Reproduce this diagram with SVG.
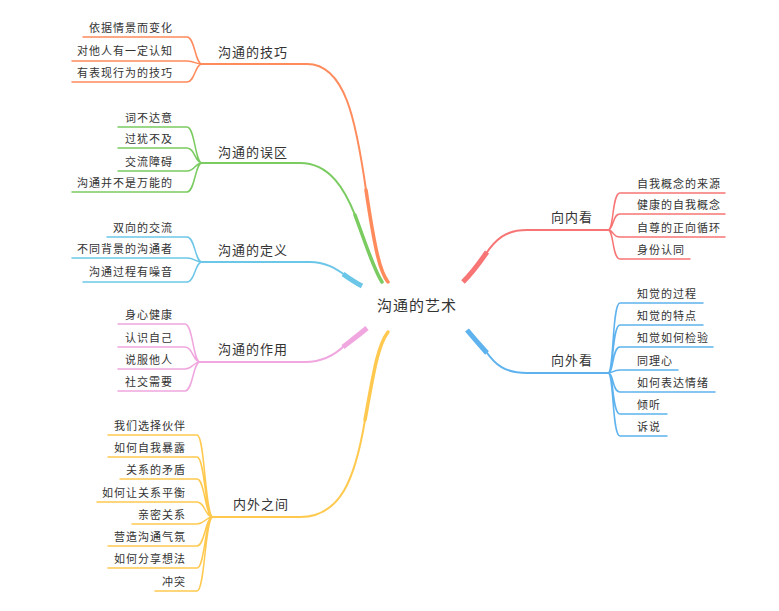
<svg xmlns="http://www.w3.org/2000/svg" width="779" height="611" viewBox="0 0 779 611">
<style>
text{font-family:"Noto Sans CJK SC","Noto Sans",sans-serif;fill:#333;letter-spacing:1px}
.l{font-size:11px;text-anchor:end}
.r{font-size:11px}
.b{font-size:13px}
.c{font-size:15px}
path{fill:none;stroke-linecap:round}
.o{stroke:#FF8A5B}.g{stroke:#7ACB60}.cy{stroke:#6CC6E8}.p{stroke:#F0A6DE}.y{stroke:#FFC94F}.rd{stroke:#F77575}.bl{stroke:#5EB2EE}
.t{stroke-width:1.5}.m{stroke-width:2}.k{stroke-width:3.5}.kk{stroke-width:5;stroke-linecap:butt}
</style>
<rect width="779" height="611" fill="#fff"/>
<g id="connectors">
<!-- orange -->
<path class="o m" d="M202 64 L307 64 C345 64 356 120 366 190"/>
<path class="o k" d="M366 190 C375 250 380 272 388 282"/>
<path class="o t" d="M202 64 C195 64 195 37 187 37 L83 37 M202 64 C195 64 195 61 187 61 L72 61 M202 64 C195 64 195 82 187 82 L72 82"/>
<!-- green -->
<path class="g m" d="M202 163 L300 163 C330 163 345 190 355 215"/>
<path class="g k" d="M355 215 C368 250 374 270 382 282"/>
<path class="g t" d="M202 163 C195 163 195 127 187 127 L118 127 M202 163 C195 163 195 148 187 148 L118 148 M202 163 C195 163 195 171 187 171 L118 171 M202 163 C195 163 195 192 187 192 L72 192"/>
<!-- cyan -->
<path class="cy m" d="M202 262 L310 262 C325 262 335 268 345 275"/>
<path class="cy kk" d="M343 274 C350 279 356 283 362 286"/>
<path class="cy t" d="M202 262 C195 262 195 237 187 237 L107 237 M202 262 C195 262 195 258 187 258 L72 258 M202 262 C195 262 195 282 187 282 L83 282"/>
<!-- pink -->
<path class="p m" d="M200 362 L305 362 C322 362 335 355 345 345"/>
<path class="p kk" d="M343 347 C352 340 360 334 367 328"/>
<path class="p t" d="M200 362 C193 362 193 324 185 324 L118 324 M200 362 C193 362 193 347 185 347 L118 347 M200 362 C193 362 193 369 185 369 L118 369 M200 362 C193 362 193 391 185 391 L118 391"/>
<!-- yellow -->
<path class="y m" d="M213 517 L300 517 C340 517 355 480 365 420"/>
<path class="y k" d="M365 420 C374 370 378 345 388 332"/>
<path class="y t" d="M213 517 C205 517 205 435 197 435 L108 435 M213 517 C205 517 205 457 197 457 L108 457 M213 517 C205 517 205 479 197 479 L120 479 M213 517 C205 517 205 502 197 502 L97 502 M213 517 C205 517 205 524 197 524 L132 524 M213 517 C205 517 205 546 197 546 L108 546 M213 517 C205 517 205 568 197 568 L108 568 M213 517 C205 517 205 591 197 591 L155 591"/>
<!-- red -->
<path class="rd m" d="M608 230 L527 230 C505 230 495 240 485 255"/>
<path class="rd kk" d="M487 252 C478 265 470 275 463 282"/>
<path class="rd t" d="M608 230 C614 230 612 193 620 193 L725 193 M608 230 C614 230 612 214 620 214 L725 214 M608 230 C614 230 612 237 620 237 L725 237 M608 230 C614 230 612 259 620 259 L690 259"/>
<!-- blue -->
<path class="bl m" d="M608 373 L527 373 C505 373 495 365 485 350"/>
<path class="bl kk" d="M487 353 C478 343 472 336 467 330"/>
<path class="bl t" d="M608 373 C614 373 612 303 620 303 L703 303 M608 373 C614 373 612 325 620 325 L703 325 M608 373 C614 373 612 347 620 347 L713 347 M608 373 C614 373 612 370 620 370 L678 370 M608 373 C614 373 612 392 620 392 L715 392 M608 373 C614 373 612 414 620 414 L667 414 M608 373 C614 373 612 436 620 436 L667 436"/>
</g>
<g id="center"><text class="c" x="377" y="311">沟通的艺术</text></g>
<g id="n1"><text class="b" x="218" y="57">沟通的技巧</text>
<text class="l" x="173" y="32">依据情景而变化</text><text class="l" x="173" y="55">对他人有一定认知</text><text class="l" x="173" y="77">有表现行为的技巧</text></g>
<g id="n2"><text class="b" x="218" y="157">沟通的误区</text>
<text class="l" x="173" y="122">词不达意</text><text class="l" x="173" y="143">过犹不及</text><text class="l" x="173" y="166">交流障碍</text><text class="l" x="173" y="187">沟通并不是万能的</text></g>
<g id="n3"><text class="b" x="218" y="255">沟通的定义</text>
<text class="l" x="173" y="232">双向的交流</text><text class="l" x="173" y="253">不同背景的沟通者</text><text class="l" x="173" y="276">沟通过程有噪音</text></g>
<g id="n4"><text class="b" x="218" y="354">沟通的作用</text>
<text class="l" x="173" y="319">身心健康</text><text class="l" x="173" y="342">认识自己</text><text class="l" x="173" y="364">说服他人</text><text class="l" x="173" y="386">社交需要</text></g>
<g id="n5"><text class="b" x="233" y="509">内外之间</text>
<text class="l" x="186" y="430">我们选择伙伴</text><text class="l" x="186" y="452">如何自我暴露</text><text class="l" x="186" y="474">关系的矛盾</text><text class="l" x="186" y="497">如何让关系平衡</text><text class="l" x="186" y="519">亲密关系</text><text class="l" x="186" y="541">营造沟通气氛</text><text class="l" x="186" y="563">如何分享想法</text><text class="l" x="186" y="586">冲突</text></g>
<g id="n6"><text class="b" x="551" y="222">向内看</text>
<text class="r" x="637" y="188">自我概念的来源</text><text class="r" x="637" y="209">健康的自我概念</text><text class="r" x="637" y="232">自尊的正向循环</text><text class="r" x="637" y="254">身份认同</text></g>
<g id="n7"><text class="b" x="551" y="365">向外看</text>
<text class="r" x="637" y="298">知觉的过程</text><text class="r" x="637" y="320">知觉的特点</text><text class="r" x="637" y="342">知觉如何检验</text><text class="r" x="637" y="365">同理心</text><text class="r" x="637" y="387">如何表达情绪</text><text class="r" x="637" y="409">倾听</text><text class="r" x="637" y="431">诉说</text></g>
</svg>
